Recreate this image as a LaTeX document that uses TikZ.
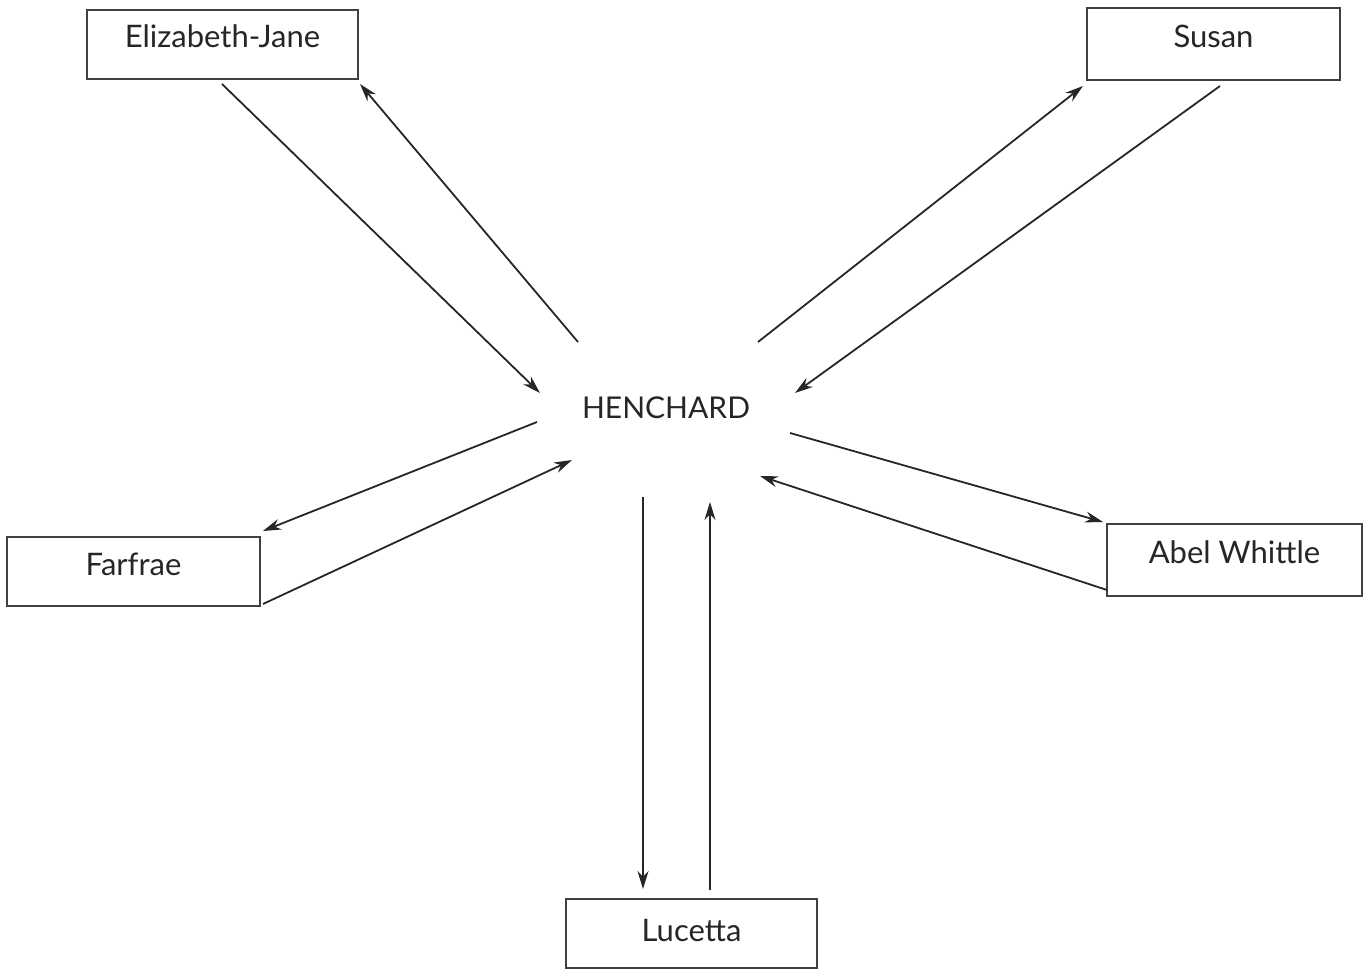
\documentclass[tikz,border=0pt]{standalone}
\usepackage{fontspec}
\setmainfont{Lato}
\usetikzlibrary{arrows.meta}
\begin{document}
\begin{tikzpicture}[x=1pt,y=-1pt,
  box/.style={draw=black!75,line width=1.7pt,fill=white,inner sep=0pt,
    text height=23pt,text depth=16pt,font=\fontsize{31}{36}\selectfont,text=black!85},
  conn/.style={draw=black!85,line width=1.8pt,-{Stealth[length=18pt,width=11pt]}}]
\useasboundingbox (0,0) rectangle (1366,971);
\node[box,minimum width=271pt,minimum height=69pt] (ej) at (222.5,44.5) {Elizabeth-Jane};
\node[box,minimum width=253pt,minimum height=72pt] (su) at (1213.5,44) {Susan};
\node[box,minimum width=253pt,minimum height=69pt] (fa) at (133.5,571.5) {Farfrae};
\node[box,minimum width=255pt,minimum height=72pt] (ab) at (1234.5,560) {Abel Whittle};
\node[box,minimum width=251pt,minimum height=69pt,text height=27pt,text depth=12pt] (lu) at (691.5,933.5) {Lucetta};
\node[font=\fontsize{30}{35}\selectfont,text=black!85,inner sep=0pt] (he) at (666,408) {HENCHARD};
% endpoints
\coordinate (a1s) at (222,84);  \coordinate (a1e) at (540,393);
\coordinate (a2s) at (578,342); \coordinate (a2e) at (360,84);
\coordinate (a3s) at (758,342); \coordinate (a3e) at (1083,86);
\coordinate (a4s) at (1220,86); \coordinate (a4e) at (795,393);
\coordinate (a5s) at (790,433); \coordinate (a5e) at (1103,522);
\coordinate (a6s) at (1107,590); \coordinate (a6e) at (760,476);
\coordinate (a7s) at (643,497); \coordinate (a7e) at (643,889);
\coordinate (a8s) at (710,890); \coordinate (a8e) at (710,502);
\coordinate (a9s) at (537,422); \coordinate (a9e) at (263,531);
\coordinate (a10s) at (263,604); \coordinate (a10e) at (572,460);
\draw[conn] (a1s) -- (a1e);
\draw[conn] (a2s) -- (a2e);
\draw[conn] (a3s) -- (a3e);
\draw[conn] (a4s) -- (a4e);
\draw[conn] (a5s) -- (a5e);
\draw[conn] (a6s) -- (a6e);
\draw[conn] (a7s) -- (a7e);
\draw[conn] (a8s) -- (a8e);
\draw[conn] (a9s) -- (a9e);
\draw[conn] (a10s) -- (a10e);
\end{tikzpicture}
\end{document}
